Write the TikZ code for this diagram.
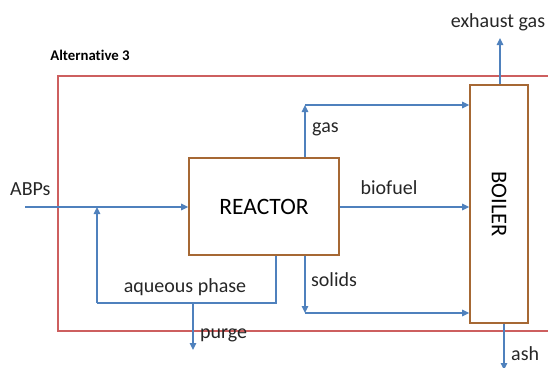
\documentclass[tikz,border=0pt]{standalone}
\usepackage{fontspec}
\setmainfont{Carlito}[Ligatures=NoCommon]
\usepackage{tikz}
\usetikzlibrary{positioning,calc,arrows.meta}
\usepackage{xcolor}
\definecolor{flowblue}{RGB}{79,129,189}
\definecolor{unitbrown}{RGB}{166,104,52}
\definecolor{limitred}{RGB}{205,95,95}

\begin{document}
\begin{tikzpicture}[
    x=1pt, y=-1pt,
    node distance=4pt,
    every node/.style={font=\fontsize{20}{24}\selectfont, inner sep=0pt},
    unit/.style={rectangle, draw=unitbrown, line width=1.6pt, fill=white},
    arrow/.style={-{Triangle[length=7pt, width=6.5pt]}, line width=1.3pt, flowblue},
    flow/.style={line width=1.3pt, flowblue},
    flowlabel/.style={font=\fontsize{20}{24}\selectfont, text=black!85},
    title/.style={font=\bfseries\fontsize{14.8}{18}\selectfont}
]
\useasboundingbox (0,0) rectangle (548,367);
\clip (0,0) rectangle (548,367);

% ============ SYSTEM BOUNDARY ============
\draw[limitred, line width=1.3pt] (58,331) rectangle (570,76);
\node[title, anchor=center] (alt) at (90,55) {Alternative 3};

% ============ UNITS ============
\node[unit, minimum width=150pt, minimum height=97pt,
      font=\fontsize{23.5}{28}\selectfont] (reactor) at (264,206.5) {REACTOR};
\node[unit, minimum width=58pt, minimum height=238pt] (boiler) at (499,204) {};
\node[rotate=-90, font=\fontsize{22.5}{27}\selectfont] at (boiler.center) {BOILER};

% Branch points
\coordinate (feed_in)   at (25,207);
\coordinate (recycle)   at (97,207);
\coordinate (gas_top)   at (305,105);
\coordinate (solid_bot) at (305,313);
\coordinate (aq_bot)    at (276,303);
\coordinate (purge_top) at (193,303);
\coordinate (purge_end) at (193,350);
\coordinate (exhaust)   at (500,38);
\coordinate (ash_end)   at (504,370);

% ============ STREAMS ============
% Feed
\draw[arrow] (feed_in) -- (reactor.west |- feed_in);
\node[flowlabel, above right=11pt and -15pt of feed_in] (abps) {ABPs};

% Gas to boiler
\draw[arrow] (reactor.north -| gas_top) -- (gas_top);
\draw[arrow] (gas_top) -- (boiler.west |- gas_top);
\node[flowlabel, below right=18pt and 7pt of gas_top] (gas) {gas};

% Biofuel to boiler
\draw[arrow] (reactor.east |- feed_in) -- (boiler.west |- feed_in);
\node[flowlabel] (biofuel) at (389,188) {biofuel};

% Solids to boiler
\draw[arrow] (reactor.south -| solid_bot) -- (solid_bot);
\draw[arrow] (solid_bot) -- (boiler.west |- solid_bot);
\node[flowlabel] (solids) at (334,280) {solids};

% Aqueous phase recycle
\draw[flow] (reactor.south -| aq_bot) -- (aq_bot) -- (aq_bot -| recycle);
\draw[arrow] (aq_bot -| recycle) -- (recycle);
\node[flowlabel] (aqueous) at (185,287) {aqueous phase};

% Purge
\draw[arrow] (purge_top) -- (purge_end);
\node[flowlabel, anchor=west] (purge) at (200,335) {purge};

% Boiler outlets
\draw[arrow] (boiler.north -| exhaust) -- (exhaust);
\node[flowlabel] (exh) at (498,22) {exhaust gas};
\draw[arrow] (boiler.south -| ash_end) -- (ash_end);
\node[flowlabel, anchor=west] (ash) at (511,354) {ash};

\end{tikzpicture}
\end{document}
